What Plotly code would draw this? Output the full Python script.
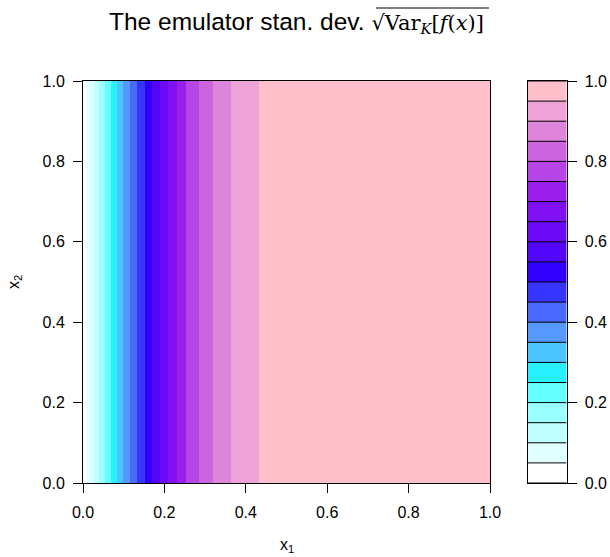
import plotly.graph_objects as go

# ---- data ----
# x1 positions where the emulator s.d. crosses each contour level (band edges)
x1_edges = [0.0, 0.0098, 0.0258, 0.0405, 0.054, 0.0687, 0.0847, 0.0994, 0.1166,
            0.1337, 0.1521, 0.1693, 0.1902, 0.2098, 0.2299, 0.254, 0.2854,
            0.3198, 0.3632, 0.4314, 1.0]
x2_edges = [0.0, 1.0]
# contour levels (21 edges -> 20 bands)
levels = [0.0, 0.05, 0.10, 0.15, 0.20, 0.25, 0.30, 0.35, 0.40, 0.45, 0.50,
          0.55, 0.60, 0.65, 0.70, 0.75, 0.80, 0.85, 0.90, 0.95, 1.0]
# band colours, low -> high
band_colors = ["#FFFFFF", "#E0FFFF", "#C0FFFF", "#99FFFF", "#66FFFF", "#28F0FF",
               "#4CC4FF", "#5599FF", "#4A6AFF", "#3535FF", "#3000FF", "#5206FA",
               "#6A0AF7", "#7E10F2", "#9A1FEA", "#B545E6", "#CB64DD", "#DD86D9",
               "#EEA3D6", "#FFC0CB"]
ticks = [0.0, 0.2, 0.4, 0.6, 0.8, 1.0]
tick_text = ["0.0", "0.2", "0.4", "0.6", "0.8", "1.0"]

# ---- build ----
mids = [(levels[i] + levels[i + 1]) / 2 for i in range(len(levels) - 1)]
n = len(band_colors)
cscale = []
for i, c in enumerate(band_colors):
    cscale.append([i / n, c])
    cscale.append([(i + 1) / n, c])

W, H = 610, 557
px = lambda x: x / W
py = lambda y: 1 - y / H

fig = go.Figure()
fig.add_trace(go.Heatmap(
    x=x1_edges, y=x2_edges, z=[mids],
    colorscale=cscale, zmin=levels[0], zmax=levels[-1],
    showscale=False, hoverinfo="skip", xaxis="x", yaxis="y"))
fig.add_trace(go.Heatmap(
    x=[0, 1], y=levels, z=[[m] for m in mids],
    colorscale=cscale, zmin=levels[0], zmax=levels[-1],
    showscale=False, hoverinfo="skip", xaxis="x2", yaxis="y2"))

shapes = []
for lv in levels:
    shapes.append(dict(type="line", xref="x2", yref="y2", x0=0, x1=1, y0=lv, y1=lv,
                       line=dict(color="black", width=1)))
# overline of the square root in the title
shapes.append(dict(type="line", xref="paper", yref="paper", x0=px(376), x1=px(489),
                   y0=py(8), y1=py(8), line=dict(color="black", width=1)))

font = dict(family="Liberation Sans, Arial, sans-serif", size=16, color="black")
axis_common = dict(showgrid=False, zeroline=False, showline=True, linecolor="black",
                   linewidth=1, mirror=True, ticks="outside", ticklen=9,
                   tickcolor="black", tickwidth=1, tickfont=font, automargin=False)

fig.update_layout(
    width=W, height=H, margin=dict(l=0, r=0, t=0, b=0),
    paper_bgcolor="white", plot_bgcolor="white", showlegend=False,
    xaxis=dict(domain=[px(83), px(490)], range=[0, 1], tickvals=ticks,
               ticktext=tick_text, anchor="y", ticklabelstandoff=6, **axis_common),
    yaxis=dict(domain=[py(483), py(81)], range=[0, 1], tickvals=ticks,
               ticktext=tick_text, anchor="x", ticklabelstandoff=5, **axis_common),
    xaxis2=dict(domain=[px(528), px(566.5)], range=[0, 1], showticklabels=False,
                showgrid=False, zeroline=False, showline=True, linecolor="black",
                mirror=True, ticks="", anchor="y2", automargin=False),
    yaxis2=dict(domain=[py(483), py(81)], range=[0, 1], tickvals=ticks,
                ticktext=tick_text, side="right", anchor="x2", ticklabelstandoff=5,
                **axis_common),
    shapes=shapes,
    annotations=[
        dict(text="The emulator stan. dev. <span style='font-family:DejaVu Serif;font-size:21px'>√Var<sub><i>K</i></sub>[<i>f</i>(<i>x</i>)]</span>",
             x=px(296), y=py(23), xref="paper", yref="paper", showarrow=False,
             xanchor="center", yanchor="middle",
             font=dict(family="Liberation Sans, Arial, sans-serif", size=24.5, color="black")),
        dict(text="x<sub>1</sub>", x=px(287), y=py(545), xref="paper", yref="paper",
             showarrow=False, xanchor="center", yanchor="middle", font=font),
        dict(text="x<sub>2</sub>", x=px(15), y=py(282), xref="paper", yref="paper",
             showarrow=False, xanchor="center", yanchor="middle", textangle=-90, font=font),
    ],
)

fig.write_html("out.html")
